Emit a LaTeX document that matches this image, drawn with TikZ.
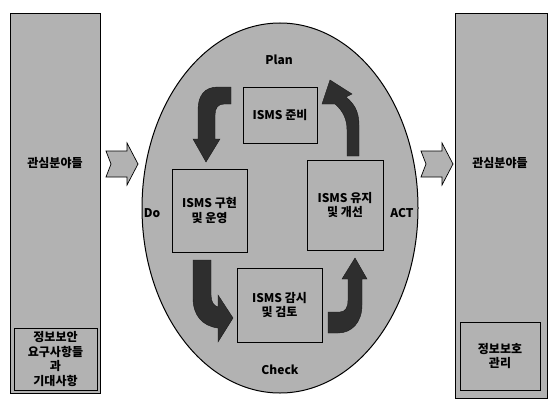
\documentclass[tikz,border=0pt]{standalone}
\usepackage{fontspec}
\setmainfont{Noto Sans CJK KR}
\usetikzlibrary{shapes.geometric}
\begin{document}
\begin{tikzpicture}[x=1pt,y=-1pt]
\tikzset{
 colbox/.style={draw=black, line width=0.6pt, fill=black!30, inner sep=0pt},
 inbox/.style={draw=black, line width=0.8pt, fill=black!30, inner sep=0pt, align=center, font=\fontsize{12}{14.5}\selectfont\bfseries},
 lbl/.style={font=\fontsize{12}{14}\selectfont\bfseries, inner sep=0pt, align=center},
 curv/.style={fill=black!82, draw=black!90, line width=0.4pt},
 blk/.style={fill=black!30, draw=black, line width=0.7pt},
}
\useasboundingbox (0,0) rectangle (548,404);
\fill[white] (0,0) rectangle (548,404);
% columns
\node[colbox, minimum width=90pt, minimum height=380pt] (lcol) at (55,203) {};
\node[inbox, minimum width=83pt, minimum height=62pt] (lin) at (55.5,359) {정보보안\\요구사항들\\과\\기대사항};
\node[lbl] (ltxt) at (55,163) {관심분야들};
\node[colbox, minimum width=92pt, minimum height=385pt] (rcol) at (501,205.5) {};
\node[inbox, minimum width=80pt, minimum height=68pt] (rin) at (500,356) {정보보호\\관리};
\node[lbl] (rtxt) at (500,163) {관심분야들};
% block arrows
\draw[blk] (106,151) -- (127,151) -- (127,143) -- (138,164) -- (127,185) -- (127,177) -- (106,177) -- (111,164) -- cycle;
\draw[blk] (421,151) -- (442,151) -- (442,143) -- (453,164) -- (442,185) -- (442,177) -- (421,177) -- (426,164) -- cycle;
% cycle ellipse
\node[ellipse, draw=black, line width=1pt, fill=black!30, minimum width=276pt, minimum height=370pt, inner sep=0pt] (cyc) at (280,208) {};
\node[lbl] (plan) at (279,60) {Plan};
\node[lbl] (do) at (152,213) {Do};
\node[lbl] (act) at (402,213) {ACT};
\node[lbl] (check) at (280,370) {Check};
% boxes
\node[inbox, minimum width=74pt, minimum height=56pt] (bp) at (280,115) {ISMS 준비};
\node[inbox, minimum width=75pt, minimum height=83pt] (bd) at (209.5,210.5) {ISMS 구현\\및 운영};
\node[inbox, minimum width=76pt, minimum height=90pt] (ba) at (345,205) {ISMS 유지\\및 개선};
\node[inbox, minimum width=85pt, minimum height=74pt] (bc) at (279.5,305) {ISMS 감시\\및 검토};
% curved arrows
\fill[curv] (231,87) -- (231,104) -- (224,104) .. controls (218,104) and (215,108) .. (215,115) -- (215,139) -- (220,139) -- (206,162) -- (193,139) -- (198,139) -- (198,110) .. controls (198,95) and (205,87) .. (218,87) -- cycle;
\fill[curv] (193,260) -- (211,260) -- (211,295) .. controls (211,302) and (214,306) .. (218,307) -- (218,295) -- (233,318) -- (218,342) -- (218,328) .. controls (202,326) and (193,315) .. (193,298) -- cycle;
\fill[curv] (328,333) -- (328,312) -- (340,312) .. controls (345,312) and (348,308) .. (348,300) -- (348,279) -- (342,279) -- (355,258) -- (367,279) -- (362,279) -- (362,305) .. controls (362,322) and (352,333) .. (338,333) -- cycle;
\fill[curv] (347,156) -- (347,130) .. controls (347,118) and (342,110) .. (335,104) -- (322,104) -- (330,80) -- (352,94) -- (346,97) .. controls (353,103) and (359,110) .. (359,125) -- (359,156) -- cycle;
\end{tikzpicture}
\end{document}
